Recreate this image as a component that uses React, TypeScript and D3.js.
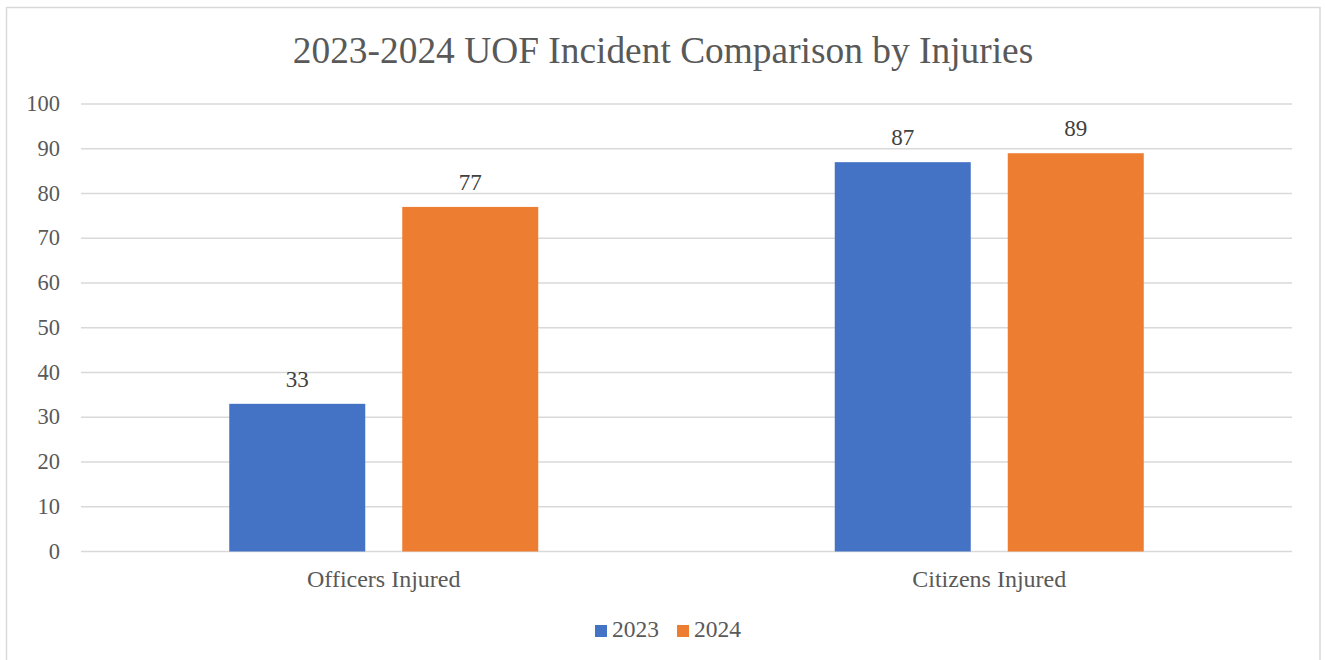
import React from "react";
import * as d3 from "d3";

const categories = ["Officers Injured", "Citizens Injured"];
const seriesNames = ["2023", "2024"];
const values2023 = [33, 87];
const values2024 = [77, 89];
const yTicks = [0, 10, 20, 30, 40, 50, 60, 70, 80, 90, 100];
const colors = ["#4472C4", "#ED7D31"];

export default function App() {
  const W = 1325, H = 660;
  const left = 81, right = 1292, top = 104, bottom = 551.5;
  const x0 = d3.scaleBand().domain(categories).range([left, right]).paddingInner(0).paddingOuter(0);
  const y = d3.scaleLinear().domain([0, 100]).range([bottom, top]);
  const barW = 136, gap = 37;
  const series = [values2023, values2024];
  const font = "'Liberation Serif', 'Times New Roman', serif";
  return (
    <svg width={W} height={H} style={{ position: "absolute", left: 0, top: 0 }}>
      <rect x={0} y={0} width={W} height={H} fill="#fff" />
      <rect x={6.5} y={7.5} width={1313.5} height={670} fill="none" stroke="#d9d9d9" strokeWidth={1.5} />
      <text x={663} y={62.5} textAnchor="middle" fontFamily={font} fontSize={37.4} fill="#595959">
        2023-2024 UOF Incident Comparison by Injuries
      </text>
      {yTicks.map((t) => (
        <g key={t}>
          <line x1={left} x2={right} y1={y(t)} y2={y(t)} stroke="#d9d9d9" strokeWidth={1.5} />
          <text x={60} y={y(t) + 7} textAnchor="end" fontFamily={font} fontSize={22.5} fill="#595959">
            {t}
          </text>
        </g>
      ))}
      {categories.map((c, ci) => {
        const cx = (x0(c) as number) + x0.bandwidth() / 2;
        return (
          <g key={c}>
            {series.map((vals, si) => {
              const bx = si === 0 ? cx - gap / 2 - barW : cx + gap / 2;
              return (
                <g key={si}>
                  <rect x={bx} y={y(vals[ci])} width={barW} height={bottom - y(vals[ci])} fill={colors[si]} />
                  <text x={bx + barW / 2} y={y(vals[ci]) - 17} textAnchor="middle" fontFamily={font} fontSize={23} fill="#404040">
                    {vals[ci]}
                  </text>
                </g>
              );
            })}
            <text x={cx} y={586.5} textAnchor="middle" fontFamily={font} fontSize={24} fill="#595959">
              {c}
            </text>
          </g>
        );
      })}
      {seriesNames.map((s, i) => {
        const lx = 595 + i * 82;
        return (
          <g key={s}>
            <rect x={lx} y={625} width={12} height={12} fill={colors[i]} />
            <text x={lx + 17} y={637} fontFamily={font} fontSize={23.5} fill="#595959">
              {s}
            </text>
          </g>
        );
      })}
    </svg>
  );
}
